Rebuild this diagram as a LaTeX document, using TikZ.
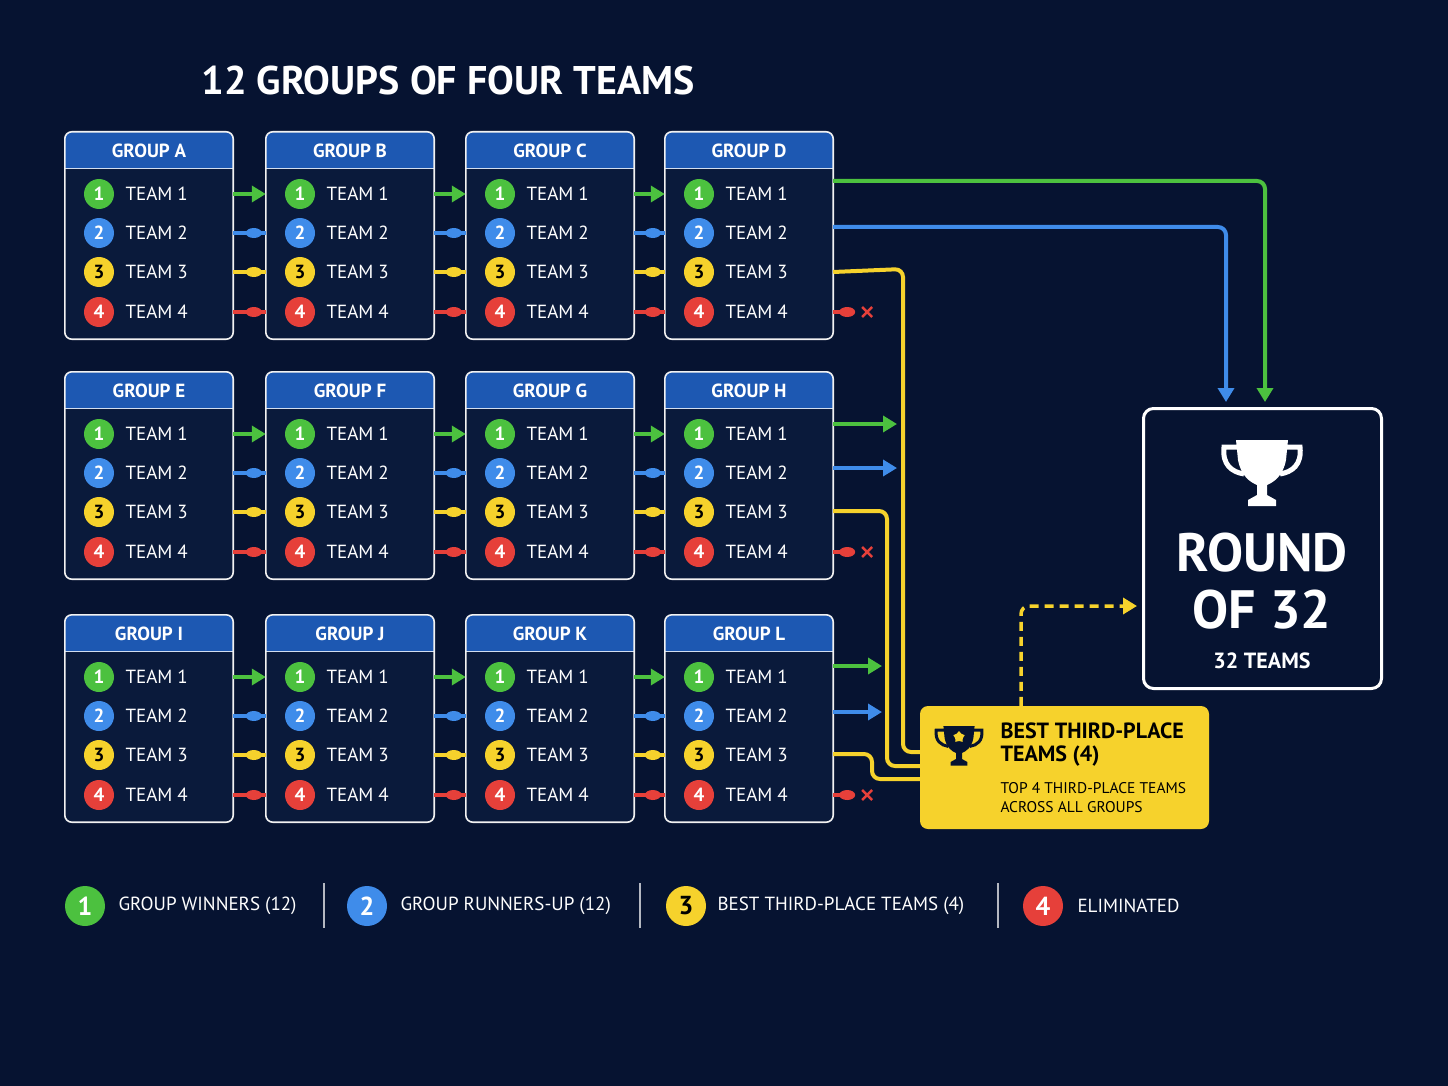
\documentclass[tikz,border=0pt]{standalone}
\usepackage{fontspec}
\setmainfont{PT Sans}
\usetikzlibrary{arrows.meta,calc,shapes.geometric}
\definecolor{bg}{HTML}{061331}
\definecolor{boxf}{HTML}{0A1A3B}
\definecolor{hdr}{HTML}{1D58B2}
\definecolor{cg}{HTML}{4CC13F}
\definecolor{cb}{HTML}{3F8CEA}
\definecolor{cy}{HTML}{F6D22C}
\definecolor{cr}{HTML}{E6403A}
\newcommand\mytrophy[3]{%
\begin{scope}[shift={(#1)},scale=#2]
\fill[#3] (-26,0) -- (26,0) -- (24,20) .. controls (21,36) and (12,42) .. (5,45) -- (5,55) -- (14,60) -- (14,66) -- (-14,66) -- (-14,60) -- (-5,55) -- (-5,45) .. controls (-12,42) and (-21,36) .. (-24,20) -- cycle;
\draw[#3,line width=#2*5pt] (-24,7) -- (-38,7) .. controls (-40,25) and (-30,32) .. (-18,34);
\draw[#3,line width=#2*5pt] (24,7) -- (38,7) .. controls (40,25) and (30,32) .. (18,34);
\end{scope}}
\tikzset{
 gbox/.style={fill=boxf,minimum width=168pt,minimum height=207pt,inner sep=0},
 htxt/.style={text=white,font=\fontsize{19}{20}\selectfont\bfseries},
 num/.style={circle,minimum size=30pt,inner sep=0,text=white,font=\fontsize{19}{19}\selectfont\bfseries},
 ttxt/.style={anchor=west,text=white,font=\fontsize{19}{20}\selectfont},
 link/.style={line width=4pt},
 arr/.style={line width=4pt,-{Triangle[length=14pt,width=16pt]}},
 lnum/.style={circle,minimum size=40pt,inner sep=0,text=white,font=\fontsize{26}{26}\selectfont\bfseries},
 ltxt/.style={anchor=west,text=white,font=\fontsize{19}{20}\selectfont},
}
\begin{document}
\begin{tikzpicture}[x=1pt,y=-1pt]
\fill[bg] (0,0) rectangle (1448,1086);
\useasboundingbox (0,0) rectangle (1448,1086);
\node[text=white,font=\fontsize{40}{42}\selectfont\bfseries] (title) at (448,81) {12 GROUPS OF FOUR TEAMS};
\foreach \L/\cx/\ty in {A/149/132,B/350/132,C/550/132,D/749/132,E/149/372,F/350/372,G/550/372,H/749/372,I/149/615,J/350/615,K/550/615,L/749/615}{
 \node[gbox] (g\L) at (\cx,\ty+103.5) {};
 \begin{scope}
 \clip[rounded corners=7pt] (g\L.north west) rectangle (g\L.south east);
 \fill[hdr] (g\L.north west) rectangle ($(g\L.north east)+(0,37)$);
 \end{scope}
 \draw[white!80!hdr,line width=1pt] ($(g\L.north west)+(0,37)$) -- ($(g\L.north east)+(0,37)$);
 \draw[white!90!gray,line width=1.6pt,rounded corners=7pt] (g\L.north west) rectangle (g\L.south east);
 \node[htxt] at ($(g\L.north)+(0,19)$) {GROUP \L};
 \foreach \i/\off/\col/\tc in {1/62/cg/white,2/101/cb/white,3/140/cy/black,4/180/cr/white}{
  \node[num,fill=\col,text=\tc] (g\L-\i) at (\cx-50,\ty+\off) {\i};
  \node[ttxt] (t\L-\i) at (\cx-27,\ty+\off) {TEAM \i};
 }
}
% links between columns
\foreach \a/\b in {A/B,B/C,C/D,E/F,F/G,G/H,I/J,J/K,K/L}{
 \draw[arr,cg] (g\a.east |- g\a-1) -- (g\b.west |- g\a-1);
 \foreach \i/\col in {2/cb,3/cy,4/cr}{
  \draw[link,\col] (g\a.east |- g\a-\i) -- (g\b.west |- g\a-\i);
  \fill[\col] ($(g\b.west |- g\a-\i)+(-12,0)$) ellipse (8pt and 5pt);
 }
}
% eliminated stubs
\foreach \L in {D,H,L}{
 \draw[link,cr] (g\L.east |- g\L-4) -- ++(20,0) coordinate (e\L);
 \fill[cr] ($(e\L)+(-6,0)$) ellipse (8pt and 5pt);
 \draw[cr,line width=2.5pt] ($(e\L)+(9,-5)$) -- ++(10,10) ($(e\L)+(9,5)$) -- ++(10,-10);
}
% round of 32
\node[draw=white,line width=3pt,rounded corners=10pt,fill=bg,minimum width=238pt,minimum height=280pt] (r32) at (1262.5,548.5) {};
\mytrophy{1262,440}{1}{white}
\node[text=white,font=\fontsize{54}{54}\selectfont\bfseries] at (1262,553) {ROUND};
\node[text=white,font=\fontsize{54}{54}\selectfont\bfseries] at (1262,610) {OF 32};
\node[text=white,font=\fontsize{22}{22}\selectfont\bfseries] at (1262,661) {32 TEAMS};
% best third box
\node[fill=cy,rounded corners=8pt,minimum width=289pt,minimum height=123pt] (bt) at (1064.5,767.5) {};
\mytrophy{959,726}{0.6}{bg}
\node[star,star points=5,fill=cy,minimum size=12pt,inner sep=0] at (959,737) {};
\node[anchor=west,text=black,font=\fontsize{22}{22}\selectfont\bfseries,align=left] at (997,745) {BEST THIRD-PLACE\\[1pt]TEAMS (4)};
\node[anchor=west,text=black,font=\fontsize{15.5}{19}\selectfont,align=left] at (997,798) {TOP 4 THIRD-PLACE TEAMS\\ACROSS ALL GROUPS};
% D outputs
\draw[arr,cg,rounded corners=8pt] (gD.east |- 0,181) -- (1265,181) -- (1265,402);
\draw[arr,cb,rounded corners=8pt] (gD.east |- 0,227) -- (1226,227) -- (1226,402);
\draw[link,cy,rounded corners=8pt] (gD.east |- gD-3) -- (903,269) -- (903,752) -- (bt.west |- 0,752);
% H outputs
\draw[arr,cg] (gH.east |- 0,424) -- (897,424);
\draw[arr,cb] (gH.east |- 0,468) -- (897,468);
\draw[link,cy,rounded corners=8pt] (gH.east |- 0,511) -- (887,511) -- (887,766) -- (bt.west |- 0,766);
% L outputs
\draw[arr,cg] (gL.east |- 0,666) -- (882,666);
\draw[arr,cb] (gL.east |- 0,712) -- (882,712);
\draw[link,cy,rounded corners=8pt] (gL.east |- 0,754) -- (872,754) -- (872,779) -- (bt.west |- 0,779);
% dashed
\draw[line width=3.5pt,cy,dash pattern=on 9pt off 6pt,rounded corners=8pt,-{Triangle[length=14pt,width=16pt]}] (bt.north -| 1021,0) -- (1021,606) -- (1137,606);
% legend
\node[lnum,fill=cg] (l1) at (85,906) {1};
\node[ltxt] at (115,906) {GROUP WINNERS (12)};
\node[lnum,fill=cb] (l2) at (367,906) {2};
\node[ltxt] at (397,906) {GROUP RUNNERS-UP (12)};
\node[lnum,fill=cy,text=black] (l3) at (686,906) {3};
\node[ltxt] at (714,906) {BEST THIRD-PLACE TEAMS (4)};
\node[lnum,fill=cr] (l4) at (1043,906) {4};
\node[ltxt] at (1074,906) {ELIMINATED};
\foreach \x in {324,640,998}{\draw[white!70!bg,line width=1.5pt] (\x,883) -- (\x,928);}
\end{tikzpicture}
\end{document}
